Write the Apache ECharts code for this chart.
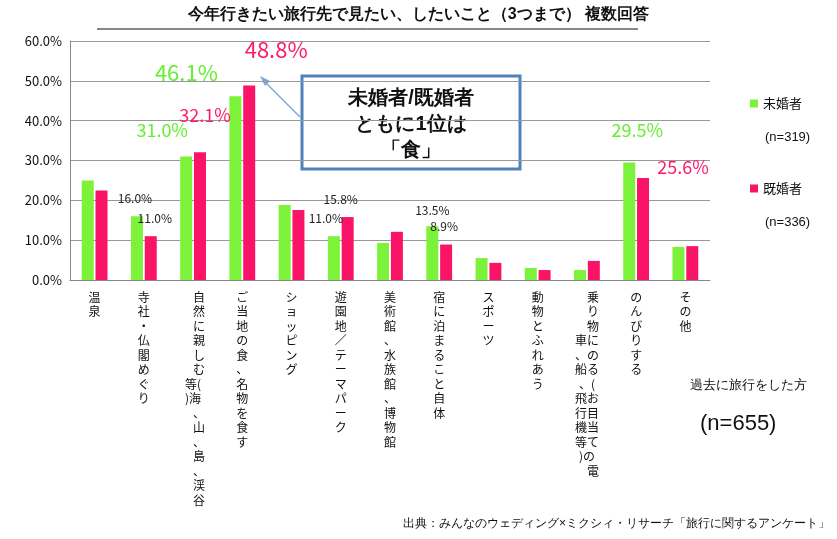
<!DOCTYPE html>
<html><head><meta charset="utf-8">
<script src="https://cdn.jsdelivr.net/npm/echarts@6/dist/echarts.min.js"></script>
<style>html,body{margin:0;background:#fff}#c{width:837px;height:539px}</style>
</head><body><div id="c"></div>
<script>
// categories: main column, second column (left), row offset for second column
const categories = ['温泉', '寺社・仏閣めぐり', '自然に親しむ(海、山、島、渓谷', 'ご当地の食、名物を食す', 'ショッピング',
  '遊園地／テーマパーク', '美術館、水族館、博物館', '宿に泊まること自体', 'スポーツ', '動物とふれあう',
  '乗り物にのる(お目当ての電', 'のんびりする', 'その他'];
const secondCol = ['', '', '等)', '', '', '', '', '', '', '', '車、船、飛行機等)', '', ''];
const secondOffset = [0, 0, 6, 0, 0, 0, 0, 0, 0, 0, 3, 0, 0];
const unmarried = [25.0, 16.0, 31.0, 46.1, 18.8, 11.0, 9.3, 13.5, 5.5, 3.0, 2.5, 29.5, 8.3];
const married = [22.5, 11.0, 32.1, 48.8, 17.6, 15.8, 12.1, 8.9, 4.3, 2.5, 4.8, 25.6, 8.5];
const yTicks = [0, 10, 20, 30, 40, 50, 60];

// which values get a label, with size / colour / offset
const labelsU = {1: [12, '#222', [-2, -7]], 2: [18, '#66ee33', [-24, -12]], 3: [22, '#66ee33', [-49, -8]],
  5: [12, '#222', [-8, -7]], 7: [12, '#222', [0, -5]], 11: [18, '#66ee33', [8, -18]]};
const labelsM = {1: [12, '#222', [4, -7]], 2: [18, '#ff1a6e', [5, -23]], 3: [22, '#ff1a6e', [27, -20]],
  5: [12, '#222', [-7, -7]], 7: [12, '#222', [-2, -7]], 11: [18, '#ff1a6e', [40, 3]]};

function verticalLabel(i) {
  const a = categories[i].split('');
  const b = secondCol[i].split('');
  const rows = [];
  for (let r = 0; r < a.length; r++) {
    const s = b[r - secondOffset[i]];
    rows.push(secondCol[i] ? (s || '\u3000') + a[r] : a[r]);
  }
  return rows.join('\n');
}

function withLabels(vals, conf) {
  return vals.map((v, i) => {
    const c = conf[i];
    if (!c) return v;
    return {value: v, label: {show: true, position: 'top', fontSize: c[0], color: c[1], offset: c[2],
      formatter: p => p.value.toFixed(1) + '%'}};
  });
}

const chart = echarts.init(document.getElementById('c'));
chart.setOption({
  animation: false,
  textStyle: {fontFamily: '"Noto Sans CJK JP", sans-serif'},
  grid: {left: 70, right: 127, top: 41, bottom: 259, containLabel: false},
  xAxis: {type: 'category', data: categories.map((_, i) => i),
    axisLine: {lineStyle: {color: '#888'}}, axisTick: {show: false},
    axisLabel: {interval: 0, formatter: v => verticalLabel(+v), fontSize: 12, lineHeight: 14.5,
      color: '#111', verticalAlign: 'top', margin: 10, align: 'center'}},
  yAxis: {type: 'value', min: 0, max: 60, interval: 10,
    axisLine: {show: true, lineStyle: {color: '#888'}}, axisTick: {show: false},
    splitLine: {lineStyle: {color: '#999'}},
    axisLabel: {fontSize: 13, color: '#111', formatter: v => yTicks.includes(v) ? v.toFixed(1) + '%' : ''}},
  legend: {orient: 'vertical', left: 745, top: 92, itemGap: 72, itemWidth: 8, itemHeight: 8,
    icon: 'rect', textStyle: {fontSize: 13, color: '#111'}},
  series: [
    {name: '未婚者', type: 'bar', data: withLabels(unmarried, labelsU), barWidth: 12, barGap: '15%',
      itemStyle: {color: '#7cf23a'}},
    {name: '既婚者', type: 'bar', data: withLabels(married, labelsM), barWidth: 12,
      itemStyle: {color: '#fa1468'}}
  ],
  graphic: [
    {type: 'text', left: 'center', x: -50, top: 7, style: {text: '今年行きたい旅行先で見たい、したいこと（3つまで） 複数回答',
      fontSize: 16, fontWeight: 'bold', fill: '#111', x: 95, y: 0}},
    {type: 'line', shape: {x1: 97, y1: 29, x2: 638, y2: 29}, style: {stroke: '#111', lineWidth: 1}},
    {type: 'line', shape: {x1: 300, y1: 117, x2: 263, y2: 80}, style: {stroke: '#7fa6d6', lineWidth: 1.5}},
    {type: 'polygon', shape: {points: [[260, 76], [270, 81], [265, 86]]}, style: {fill: '#7fa6d6'}},
    {type: 'rect', shape: {x: 302, y: 76, width: 218, height: 93}, style: {fill: '#fff', stroke: '#4f81bd', lineWidth: 3}},
    {type: 'text', x: 411, y: 85, style: {text: '未婚者/既婚者\nともに1位は\n「食」', fontSize: 20, fontWeight: 'bold',
      lineHeight: 26, align: 'center', fill: '#111'}},
    {type: 'text', x: 765, y: 131, style: {text: '(n=319)', fontSize: 13, fill: '#111'}},
    {type: 'text', x: 765, y: 216, style: {text: '(n=336)', fontSize: 13, fill: '#111'}},
    {type: 'text', x: 690, y: 379, style: {text: '過去に旅行をした方', fontSize: 13, fill: '#111'}},
    {type: 'text', x: 700, y: 413, style: {text: '(n=655)', fontSize: 22, fill: '#111'}},
    {type: 'text', x: 830, y: 518, style: {text: '出典：みんなのウェディング×ミクシィ・リサーチ「旅行に関するアンケート」',
      fontSize: 12, fill: '#111', align: 'right'}}
  ]
});
</script></body></html>
